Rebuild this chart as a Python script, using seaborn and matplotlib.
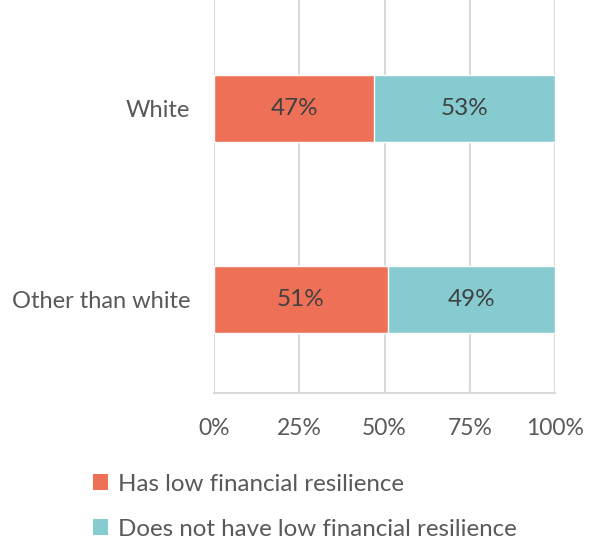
import matplotlib
matplotlib.use("Agg")
import matplotlib.pyplot as plt
import seaborn as sns
import pandas as pd
from matplotlib.patches import Patch

categories = ["White", "Other than white"]
low_resilience = [47, 51]
not_low_resilience = [53, 49]
series_names = ["Has low financial resilience", "Does not have low financial resilience"]
tick_values = [0, 25, 50, 75, 100]
tick_labels = ["0%", "25%", "50%", "75%", "100%"]

ORANGE = "#EE7157"
TEAL = "#86CBD0"
TEXT = "#595959"
GRID = "#D9D9D9"

sns.set_theme(style="white")
plt.rcParams["font.family"] = ["Lato", "DejaVu Sans"]

df = pd.DataFrame({
    "cat": categories,
    "low": low_resilience,
    "not": not_low_resilience,
})
df["total"] = df["low"] + df["not"]

fig = plt.figure(figsize=(5.89, 5.40), dpi=100)
ax = fig.add_axes([214/589, 1 - 393/540, (555 - 214)/589, 393/540])

sns.barplot(data=df, y="cat", x="total", color=TEAL, width=0.35, ax=ax,
            orient="h", saturation=1, zorder=3)
sns.barplot(data=df, y="cat", x="low", color=ORANGE, width=0.35, ax=ax,
            orient="h", saturation=1, zorder=3)

for i, (a, b) in enumerate(zip(df["low"], df["not"])):
    ax.text(a / 2, i, f"{a}%", ha="center", va="center", fontsize=17.5, color="#404040", zorder=4)
    ax.text(a + b / 2, i, f"{b}%", ha="center", va="center", fontsize=17.5, color="#404040", zorder=4)

ax.set_xlim(0, 100)
ax.set_ylim(1.49, -0.565)
ax.set_xticks(tick_values)
ax.set_xticklabels(tick_labels)
ax.xaxis.grid(True, color=GRID, linewidth=1.5, zorder=0)
ax.set_axisbelow(True)
for s in ["top", "right", "left"]:
    ax.spines[s].set_visible(False)
ax.spines["bottom"].set_color(GRID)
ax.spines["bottom"].set_linewidth(1.5)
ax.tick_params(axis="x", length=0, pad=18, labelsize=16.5, labelcolor=TEXT)
ax.tick_params(axis="y", length=0, pad=17, labelsize=17, labelcolor=TEXT)
ax.set_xlabel("")
ax.set_ylabel("")

handles = [Patch(facecolor=ORANGE, edgecolor="none"), Patch(facecolor=TEAL, edgecolor="none")]
fig.legend(handles, series_names, loc="upper left", bbox_to_anchor=(83/589, 1 - 464/540),
           frameon=False, fontsize=17.4, labelcolor=TEXT, handlelength=0.65, handleheight=0.65,
           handletextpad=0.4, labelspacing=1.0, borderaxespad=0)

fig.savefig("out.png", dpi=100)
